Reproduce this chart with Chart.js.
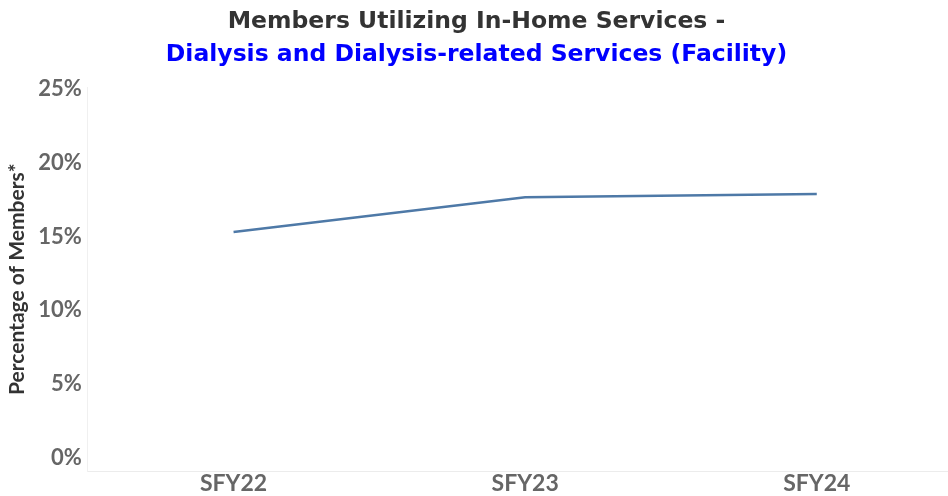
<!DOCTYPE html>
<html>
<head>
<meta charset="utf-8">
<script src="https://cdn.jsdelivr.net/npm/chart.js@4/dist/chart.umd.min.js"></script>
<style>
  html, body { margin: 0; padding: 0; background: #fff; }
  #wrap { width: 948px; height: 496px; }
</style>
</head>
<body>
<div id="wrap"><canvas id="chart"></canvas></div>
<script>
const years = ['SFY22', 'SFY23', 'SFY24'];
const percentMembers = [15.3, 17.65, 17.87];
const yTicks = [0, 5, 10, 15, 20, 25];

const points = percentMembers.map((v, i) => ({ x: i, y: v }));

const data = {
  datasets: [{
    label: 'Percentage of Members',
    data: points,
    borderColor: '#4e79a7',
    borderWidth: 2.5,
    pointRadius: 0,
    tension: 0,
    fill: false
  }]
};

const options = {
  responsive: true,
  maintainAspectRatio: false,
  animation: false,
  layout: { padding: { left: 5, right: 0, top: 0, bottom: 0 } },
  plugins: {
    legend: { display: false },
    tooltip: { enabled: false },
    title: {
      display: true,
      text: 'Members Utilizing In-Home Services -',
      color: '#333333',
      font: { family: 'DejaVu Sans', size: 23.5, weight: 'bold' },
      padding: { top: 8, bottom: 5 }
    },
    subtitle: {
      display: true,
      text: 'Dialysis and Dialysis-related Services (Facility)',
      color: '#0000ff',
      font: { family: 'DejaVu Sans', size: 23.5, weight: 'bold' },
      padding: { top: 0, bottom: 18 }
    }
  },
  scales: {
    x: {
      type: 'linear',
      min: -0.5,
      max: 2.45,
      afterBuildTicks: (axis) => { axis.ticks = years.map((_, i) => ({ value: i })); },
      ticks: {
        callback: (v) => years[v],
        color: '#666666',
        font: { family: 'Lato', size: 23, weight: 'bold', lineHeight: 1.0 },
        padding: 1,
        maxRotation: 0
      },
      grid: { display: false, drawTicks: false },
      border: { color: '#ececec', width: 1 }
    },
    y: {
      min: -0.9,
      max: 25.1,
      afterBuildTicks: (axis) => { axis.ticks = yTicks.map(v => ({ value: v })); },
      ticks: {
        callback: (v) => v + '%',
        color: '#666666',
        font: { family: 'Lato', size: 22, weight: 'bold' },
        padding: 6
      },
      grid: { display: false, drawTicks: false },
      border: { color: '#f0f0f0', width: 1 },
      title: {
        display: true,
        text: 'Percentage of Members*',
        color: '#333333',
        font: { family: 'Lato', size: 21, weight: 'bold' },
        padding: { top: 0, bottom: 2 }
      }
    }
  }
};

const config = {
  type: 'line',
  data: data,
  options: options
};

const ctx = document.getElementById('chart');
var myChart = new Chart(ctx, config);
</script>
</body>
</html>
